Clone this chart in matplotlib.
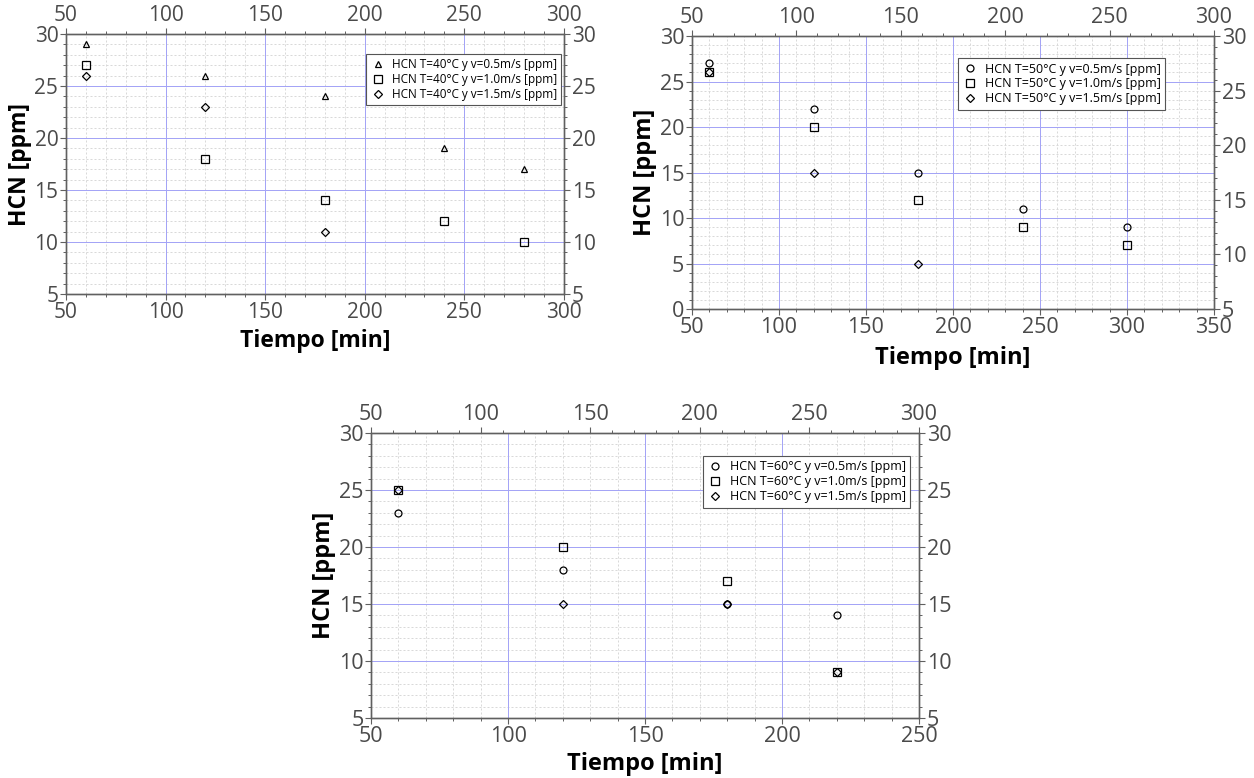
import numpy as np
import matplotlib
matplotlib.use("Agg")
import matplotlib.pyplot as plt
from matplotlib.ticker import MultipleLocator

plt.rcParams['font.family'] = ['Open Sans', 'DejaVu Sans']

# T = 40 C
t40_x_05 = [60, 120, 180, 240, 280]
t40_y_05 = [29, 26, 24, 19, 17]
t40_x_10 = [60, 120, 180, 240, 280]
t40_y_10 = [27, 18, 14, 12, 10]
t40_x_15 = [60, 120, 180]
t40_y_15 = [26, 23, 11]

# T = 50 C
t50_x_05 = [60, 120, 180, 240, 300]
t50_y_05 = [27, 22, 15, 11, 9]
t50_x_10 = [60, 120, 180, 240, 300]
t50_y_10 = [26, 20, 12, 9, 7]
t50_x_15 = [60, 120, 180]
t50_y_15 = [26, 15, 5]

# T = 60 C
t60_x_05 = [60, 120, 180, 220]
t60_y_05 = [23, 18, 15, 14]
t60_x_10 = [60, 120, 180, 220]
t60_y_10 = [25, 20, 17, 9]
t60_x_15 = [60, 120, 180, 220]
t60_y_15 = [25, 15, 15, 9]

labels_40 = ["HCN T=40°C y v=0.5m/s [ppm]", "HCN T=40°C y v=1.0m/s [ppm]", "HCN T=40°C y v=1.5m/s [ppm]"]
labels_50 = ["HCN T=50°C y v=0.5m/s [ppm]", "HCN T=50°C y v=1.0m/s [ppm]", "HCN T=50°C y v=1.5m/s [ppm]"]
labels_60 = ["HCN T=60°C y v=0.5m/s [ppm]", "HCN T=60°C y v=1.0m/s [ppm]", "HCN T=60°C y v=1.5m/s [ppm]"]

TICKC = "#4a4a4a"
SPINEC = "#606060"
MAJGRID = "#a4a4f6"
MINGRID = "#d9d9d9"
NARROW = ['Liberation Sans Narrow', 'Open Sans', 'DejaVu Sans']
PX = 72.0 / 100  # one pixel in points


def style_ticks(a, fs):
    a.tick_params(which='major', direction='out', length=4, width=0.8,
                  color=SPINEC, labelcolor=TICKC, labelsize=fs, pad=1.5)
    a.tick_params(which='minor', direction='out', length=2.5, width=0.7, color=SPINEC)
    for s in a.spines.values():
        s.set_color(SPINEC)
        s.set_linewidth(0.9)


def draw_grid(ax, xlim, ylim):
    # minor dashed grey first, then the blue major lines on top
    xmaj = np.arange(xlim[0], xlim[1] + 1, 50)
    ymaj = np.arange(ylim[0], ylim[1] + 1, 5)
    xmin = [v for v in np.arange(xlim[0], xlim[1] + 1, 10) if v not in xmaj]
    ymin = [v for v in np.arange(ylim[0], ylim[1] + 1, 1) if v not in ymaj]
    ax.vlines(xmin, ylim[0], ylim[1], colors=MINGRID, lw=PX, linestyles=(0, (2, 2)), zorder=0.3, snap=True)
    ax.hlines(ymin, xlim[0], xlim[1], colors=MINGRID, lw=PX, linestyles=(0, (2, 2)), zorder=0.3, snap=True)
    ax.vlines(xmaj[1:-1], ylim[0], ylim[1], colors=MAJGRID, lw=PX, zorder=0.4, snap=True)
    ax.hlines(ymaj[1:-1], xlim[0], xlim[1], colors=MAJGRID, lw=PX, zorder=0.4, snap=True)


def panel(rect, series, marks, sizes, labels, xlim, ylim, ylim_r, fs, lfs, leg_anchor, ylab_x, xlab_y):
    ax = fig.add_axes(rect)
    draw_grid(ax, xlim, ylim)
    for (x, y), m, ms, lb in zip(series, marks, sizes, labels):
        ax.plot(x, y, ls='none', marker=m, ms=ms, mfc='none', mec='black', mew=0.9, label=lb)

    ax.set_xlim(*xlim)
    ax.set_ylim(*ylim)
    ax.xaxis.set_major_locator(MultipleLocator(50))
    ax.xaxis.set_minor_locator(MultipleLocator(10))
    ax.yaxis.set_major_locator(MultipleLocator(5))
    ax.yaxis.set_minor_locator(MultipleLocator(1))
    style_ticks(ax, fs)

    ax.set_xlabel("Tiempo [min]", fontsize=fs + 1.5, fontweight='bold')
    ax.set_ylabel("HCN [ppm]", fontsize=fs + 1.5, fontweight='bold')
    ax.xaxis.set_label_coords(0.5, xlab_y)
    ax.yaxis.set_label_coords(ylab_x, 0.5)

    top = ax.twiny()
    top.set_xlim(50, 300)
    top.xaxis.set_major_locator(MultipleLocator(50))
    top.xaxis.set_minor_locator(MultipleLocator(10))
    style_ticks(top, fs)

    right = ax.twinx()
    right.set_ylim(*ylim_r)
    right.yaxis.set_major_locator(MultipleLocator(5))
    right.yaxis.set_minor_locator(MultipleLocator(1))
    style_ticks(right, fs)

    leg = ax.legend(loc='upper right', bbox_to_anchor=leg_anchor,
                    prop={'family': NARROW, 'size': lfs},
                    frameon=True, fancybox=False, edgecolor='#555555', framealpha=1,
                    borderpad=0.35, labelspacing=0.15, handlelength=1.2,
                    handletextpad=0.6, borderaxespad=0)
    leg.get_frame().set_linewidth(0.8)
    return ax


fig = plt.figure(figsize=(12.54, 7.78), dpi=100)

panel([0.0526, 0.6221, 0.3971, 0.3342],
      [(t40_x_05, t40_y_05), (t40_x_10, t40_y_10), (t40_x_15, t40_y_15)],
      ['^', 's', 'D'], [5, 5.5, 3.8], labels_40,
      (50, 300), (5, 30), (5, 30), 15, 8.5, (0.994, 0.923), -0.068, -0.135)

panel([0.5518, 0.6028, 0.4163, 0.3509],
      [(t50_x_05, t50_y_05), (t50_x_10, t50_y_10), (t50_x_15, t50_y_15)],
      ['o', 's', 'D'], [5, 5.5, 3.8], labels_50,
      (50, 350), (0, 30), (5, 30), 15.5, 9, (0.906, 0.919), -0.067, -0.136)

panel([0.2959, 0.0771, 0.4370, 0.3663],
      [(t60_x_05, t60_y_05), (t60_x_10, t60_y_10), (t60_x_15, t60_y_15)],
      ['o', 's', 'D'], [5, 5.5, 3.8], labels_60,
      (50, 250), (5, 30), (5, 30), 15.5, 9, (0.9836, 0.919), -0.064, -0.12)

fig.savefig("out.png", dpi=100)
